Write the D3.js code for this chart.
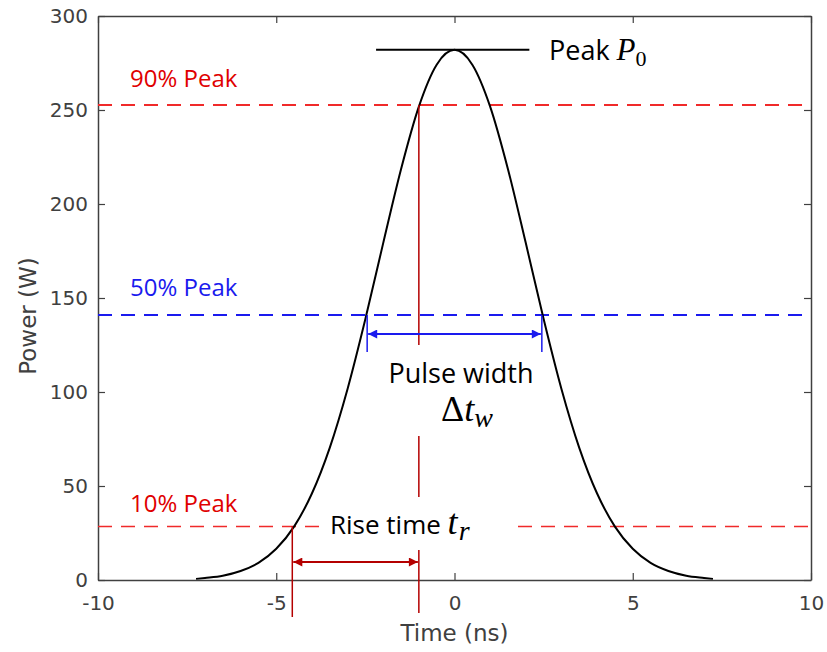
<!DOCTYPE html>
<html>
<head>
<meta charset="utf-8">
<script src="https://cdn.jsdelivr.net/npm/d3@7"></script>
<style>
  body { margin: 0; background: #fff; }
  svg { display: block; }
</style>
</head>
<body>
<div id="chart"></div>
<script>
// pulse
let times = [-7.25, -7, -6.5, -6, -5.5, -5, -4.5, -4, -3.5, -3, -2.5, -2, -1.5, -1, -0.5, 0,
             0.5, 1, 1.5, 2, 2.5, 3, 3.5, 4, 4.5, 5, 5.5, 6, 6.5, 7, 7.25];
let power = [0.6, 1.1, 2.3, 4.8, 9.1, 16.6, 28.4, 46.0, 70.3, 101.6, 138.8, 179.2, 218.5, 251.8, 274.1, 282,
             274.1, 251.8, 218.5, 179.2, 138.8, 101.6, 70.3, 46.0, 28.4, 16.6, 9.1, 4.8, 2.3, 1.1, 0.6];

let peakValue = 282;
let levelNames = ["90% Peak", "50% Peak", "10% Peak"];
let levelValues = [252.6, 141, 28.5];
let riseTimes = [-4.55, -1.0];
let widthTimes = [-2.45, 2.45];
let xTicks = [-10, -5, 0, 5, 10];
let yTicks = [0, 50, 100, 150, 200, 250, 300];

let dim = { width: 827, height: 652, left: 98, right: 811, top: 16, bottom: 580 };

let svg = d3.select('#chart').append('svg')
    .attr('width', dim.width)
    .attr('height', dim.height);

let scaleX = d3.scaleLinear().domain([-10, 10]).range([dim.left, dim.right]);
let scaleY = d3.scaleLinear().domain([0, 300]).range([dim.bottom, dim.top]);

let darkRed = '#b40000';
let dashRed = '#f02a2a';
let dashBlue = '#1a1aee';

let defs = svg.append('defs');
function marker(id, color) {
    let m = defs.append('marker')
        .attr('id', id)
        .attr('viewBox', '0 0 10 10')
        .attr('refX', 10).attr('refY', 5)
        .attr('markerWidth', 5.5).attr('markerHeight', 4.5)
        .attr('markerUnits', 'strokeWidth')
        .attr('orient', 'auto-start-reverse');
    m.append('path').attr('d', 'M0,0 L10,5 L0,10 z').attr('fill', color);
}
marker('arrRed', darkRed);
marker('arrBlue', dashBlue);

// axes
let axisColor = '#404040';
let tickFont = '"DejaVu Sans", sans-serif';
let fmt = d => String(d);

let gx = svg.append('g')
    .attr('transform', `translate(0,${dim.bottom})`)
    .call(d3.axisBottom(scaleX).tickValues(xTicks).tickFormat(fmt).tickSizeInner(-7).tickSizeOuter(0).tickPadding(16));
let gxTop = svg.append('g')
    .attr('transform', `translate(0,${dim.top})`)
    .call(d3.axisTop(scaleX).tickValues(xTicks).tickSizeInner(-7).tickSizeOuter(0).tickFormat(''));
let gy = svg.append('g')
    .attr('transform', `translate(${dim.left},0)`)
    .call(d3.axisLeft(scaleY).tickValues(yTicks).tickFormat(fmt).tickSizeInner(-7).tickSizeOuter(0).tickPadding(10));
let gyRight = svg.append('g')
    .attr('transform', `translate(${dim.right},0)`)
    .call(d3.axisRight(scaleY).tickValues(yTicks).tickSizeInner(-7).tickSizeOuter(0).tickFormat(''));

[gx, gxTop, gy, gyRight].forEach(g => {
    g.select('.domain').attr('stroke', axisColor).attr('stroke-width', 1.5);
    g.selectAll('.tick line').attr('stroke', axisColor).attr('stroke-width', 1.2);
    g.selectAll('.tick text').attr('fill', axisColor)
        .style('font-family', tickFont).style('font-size', '20px');
});

svg.append('text')
    .attr('x', scaleX(0)).attr('y', 641)
    .attr('text-anchor', 'middle')
    .attr('fill', axisColor)
    .style('font-family', tickFont).style('font-size', '23px')
    .text('Time (ns)');

svg.append('text')
    .attr('transform', `translate(36,${scaleY(150) + 18}) rotate(-90)`)
    .attr('text-anchor', 'middle')
    .attr('fill', axisColor)
    .style('font-family', tickFont).style('font-size', '23px')
    .text('Power (W)');

// level lines
let levelColors = [dashRed, dashBlue, dashRed];
let textColors = ['#e00000', '#1a1aee', '#e00000'];
let labelOffset = [18, 19, 14];
let labelFont = '"Open Sans", sans-serif';
let mathFont = '"Liberation Serif", serif';

levelValues.forEach((v, i) => {
    let segs = i === 2
        ? [[-10, scaleX.invert(320)], [scaleX.invert(518), 10]]
        : [[-10, 10]];
    segs.forEach(s => {
        svg.append('line')
            .attr('x1', scaleX(s[0])).attr('x2', scaleX(s[1]))
            .attr('y1', scaleY(v)).attr('y2', scaleY(v))
            .attr('stroke', levelColors[i])
            .attr('stroke-width', i === 2 ? 1.5 : 2)
            .attr('stroke-dasharray', '14,9');
    });
    svg.append('text')
        .attr('x', 130).attr('y', scaleY(v) - labelOffset[i])
        .attr('fill', textColors[i])
        .style('font-family', labelFont).style('font-size', '24px')
        .text(levelNames[i]);
});

// pulse curve
let line = d3.line()
    .x((d, i) => scaleX(times[i]))
    .y(d => scaleY(d))
    .curve(d3.curveMonotoneX);

svg.append('path')
    .datum(power)
    .attr('d', line)
    .attr('fill', 'none')
    .attr('stroke', '#000')
    .attr('stroke-width', 2);

// peak marker
svg.append('line')
    .attr('x1', scaleX(-2.2)).attr('x2', scaleX(2.1))
    .attr('y1', scaleY(peakValue)).attr('y2', scaleY(peakValue))
    .attr('stroke', '#000').attr('stroke-width', 2);

let peakText = svg.append('text')
    .attr('x', 549).attr('y', scaleY(peakValue) + 10)
    .attr('fill', '#000')
    .style('font-family', labelFont).style('font-size', '27px');
peakText.append('tspan').text('Peak ');
peakText.append('tspan').style('font-family', mathFont).style('font-style', 'italic').style('font-size', '31px').text('P');
peakText.append('tspan').attr('dy', 6).style('font-family', mathFont).style('font-size', '22px').text('0');

// rise time marks
let x90 = scaleX(riseTimes[1]);
let x10 = scaleX(riseTimes[0]);
[[scaleY(levelValues[0]), 345], [436, 497], [550, 613]].forEach(s => {
    svg.append('line')
        .attr('x1', x90).attr('x2', x90).attr('y1', s[0]).attr('y2', s[1])
        .attr('stroke', darkRed).attr('stroke-width', 1.5);
});
svg.append('line')
    .attr('x1', x10).attr('x2', x10).attr('y1', scaleY(levelValues[2])).attr('y2', 617)
    .attr('stroke', darkRed).attr('stroke-width', 1.5);
svg.append('line')
    .attr('x1', x10 + 1).attr('x2', x90 - 1).attr('y1', 562).attr('y2', 562)
    .attr('stroke', darkRed).attr('stroke-width', 2)
    .attr('marker-start', 'url(#arrRed)').attr('marker-end', 'url(#arrRed)');

let riseText = svg.append('text')
    .attr('x', 330).attr('y', 534)
    .attr('fill', '#000')
    .style('font-family', labelFont).style('font-size', '26px');
riseText.append('tspan').text('Rise time ');
riseText.append('tspan').style('font-family', mathFont).style('font-style', 'italic').style('font-size', '36px').text('t');
riseText.append('tspan').attr('dx', 1).attr('dy', 6).style('font-family', mathFont).style('font-style', 'italic').style('font-size', '28px').text('r');

// pulse width marks
let xa = scaleX(widthTimes[0]);
let xb = scaleX(widthTimes[1]);
[xa, xb].forEach(x => {
    svg.append('line')
        .attr('x1', x).attr('x2', x).attr('y1', scaleY(levelValues[1])).attr('y2', 352)
        .attr('stroke', dashBlue).attr('stroke-width', 1.5);
});
svg.append('line')
    .attr('x1', xa + 1).attr('x2', xb - 1).attr('y1', 334).attr('y2', 334)
    .attr('stroke', dashBlue).attr('stroke-width', 2)
    .attr('marker-start', 'url(#arrBlue)').attr('marker-end', 'url(#arrBlue)');

svg.append('text')
    .attr('x', 461).attr('y', 383)
    .attr('text-anchor', 'middle')
    .attr('fill', '#000')
    .style('font-family', labelFont).style('font-size', '27px')
    .text('Pulse width');

let dtText = svg.append('text')
    .attr('x', 467).attr('y', 421)
    .attr('text-anchor', 'middle')
    .attr('fill', '#000')
    .style('font-family', mathFont).style('font-size', '36px');
dtText.append('tspan').text('Δ');
dtText.append('tspan').style('font-style', 'italic').text('t');
dtText.append('tspan').attr('dy', 6).style('font-style', 'italic').style('font-size', '28px').text('w');
</script>
</body>
</html>
